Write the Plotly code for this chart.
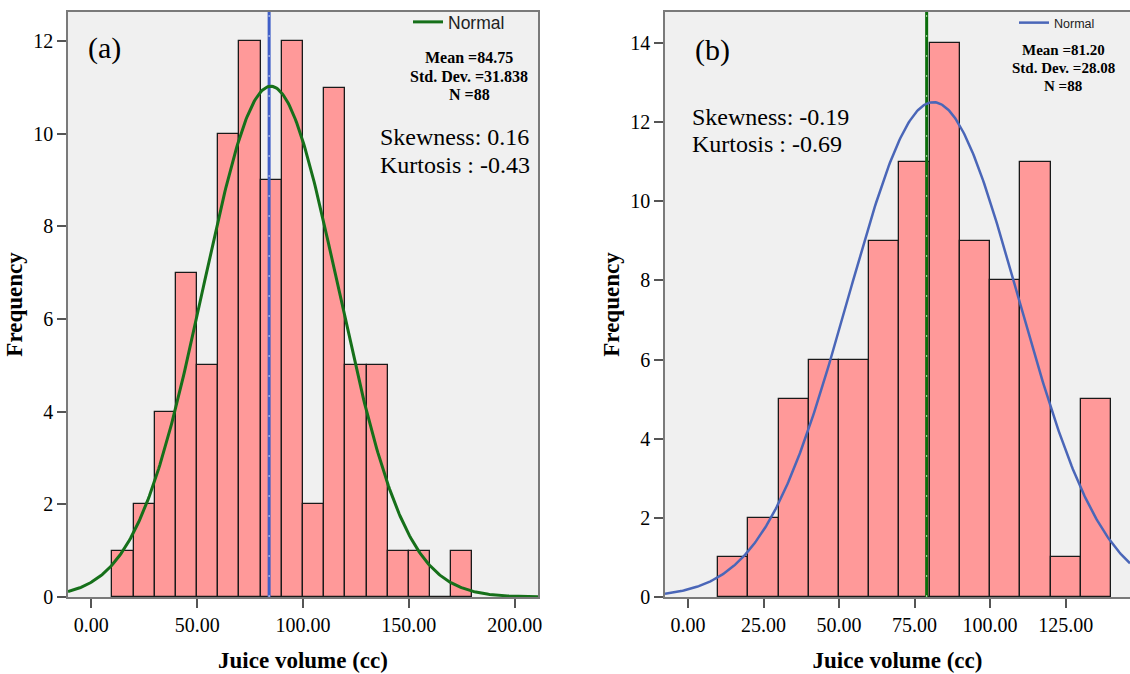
import numpy as np
import plotly.graph_objects as go

# ---------------- data ----------------
bin_width = 10

# Panel (a)
a_bin_starts = [10, 20, 30, 40, 50, 60, 70, 80, 90, 100, 110, 120, 130, 140, 150, 160, 170]
a_counts = [1, 2, 4, 7, 5, 10, 12, 9, 12, 2, 11, 5, 5, 1, 1, 0, 1]
a_mean, a_sd, a_n = 84.75, 31.838, 88
a_refline = 84.0
a_skew, a_kurt = "0.16", "-0.43"

# Panel (b)
b_bin_starts = [10, 20, 30, 40, 50, 60, 70, 80, 90, 100, 110, 120, 130]
b_counts = [1, 2, 5, 6, 6, 9, 11, 14, 9, 8, 11, 1, 5]
b_mean, b_sd, b_n = 81.20, 28.08, 88
b_refline = 79.0
b_skew, b_kurt = "-0.19", "-0.69"

a_xticks = [0, 50, 100, 150, 200]
b_xticks = [0, 25, 50, 75, 100, 125]
a_yticks = [0, 2, 4, 6, 8, 10, 12]
b_yticks = [0, 2, 4, 6, 8, 10, 12, 14]

a_xrange = [-11, 211]
b_xrange = [-7.6, 146.3]
a_yrange = [0, 12.63]
b_yrange = [0, 14.78]

# ---------------- styling ----------------
BAR_FILL = "#FF9999"
BG = "#F0F0F0"
FRAME = "#7a7a7a"
GREEN = "#16701A"
BLUE = "#4A66B8"
SERIF = "Liberation Serif"
SANS = "Liberation Sans"

W, H = 1130, 674


def normal_curve(mean, sd, n, xr):
    xs = np.linspace(xr[0], xr[1], 400)
    ys = n * bin_width / (sd * np.sqrt(2 * np.pi)) * np.exp(-0.5 * ((xs - mean) / sd) ** 2)
    return xs, ys


fig = go.Figure()

# ---- panel (a) ----
fig.add_trace(go.Bar(
    x=[s + bin_width / 2 for s in a_bin_starts], y=a_counts, width=bin_width,
    marker=dict(color=BAR_FILL, line=dict(color="#1a1a1a", width=1.3)),
    xaxis="x", yaxis="y", showlegend=False, hoverinfo="skip"))
fig.add_trace(go.Scatter(
    x=[a_refline, a_refline], y=[0, a_yrange[1]], mode="lines",
    line=dict(color="#3F5FC8", width=3), xaxis="x", yaxis="y",
    showlegend=False, hoverinfo="skip"))
fig.add_trace(go.Scatter(
    x=[a_refline, a_refline], y=[0, a_yrange[1]], mode="lines",
    line=dict(color="#C9D3F0", width=1, dash="2px,18px"), xaxis="x", yaxis="y",
    showlegend=False, hoverinfo="skip"))
xs, ys = normal_curve(a_mean, a_sd, a_n, a_xrange)
fig.add_trace(go.Scatter(
    x=xs, y=ys, mode="lines", line=dict(color=GREEN, width=3),
    name="Normal", xaxis="x", yaxis="y", legend="legend", hoverinfo="skip"))

# ---- panel (b) ----
fig.add_trace(go.Bar(
    x=[s + bin_width / 2 for s in b_bin_starts], y=b_counts, width=bin_width,
    marker=dict(color=BAR_FILL, line=dict(color="#1a1a1a", width=1.3)),
    xaxis="x2", yaxis="y2", showlegend=False, hoverinfo="skip"))
fig.add_trace(go.Scatter(
    x=[b_refline, b_refline], y=[0, b_yrange[1]], mode="lines",
    line=dict(color="#0B6E0B", width=3), xaxis="x2", yaxis="y2",
    showlegend=False, hoverinfo="skip"))
fig.add_trace(go.Scatter(
    x=[b_refline, b_refline], y=[0, b_yrange[1]], mode="lines",
    line=dict(color="#B8D8B0", width=1, dash="2px,18px"), xaxis="x2", yaxis="y2",
    showlegend=False, hoverinfo="skip"))
xs, ys = normal_curve(b_mean, b_sd, b_n, b_xrange)
fig.add_trace(go.Scatter(
    x=xs, y=ys, mode="lines", line=dict(color=BLUE, width=2.5),
    name="Normal", xaxis="x2", yaxis="y2", legend="legend2", hoverinfo="skip"))


def xaxis(domain, xr, ticks):
    return dict(
        domain=domain, range=xr, tickvals=ticks,
        ticktext=[f"{t:.2f}" for t in ticks],
        ticks="outside", ticklen=9, tickwidth=1.5, tickcolor="#555555",
        showgrid=False, zeroline=False, showline=True, mirror=True,
        linecolor=FRAME, linewidth=1.5, automargin=False,
        tickfont=dict(family=SERIF, size=20, color="black"),
        title=dict(text="<b>Juice volume (cc)</b>", standoff=17,
                   font=dict(family=SERIF, size=23, color="black")),
    )


def yaxis(domain, yr, ticks, anchor):
    return dict(
        domain=domain, range=yr, tickvals=ticks, anchor=anchor,
        ticks="outside", ticklen=9, tickwidth=1.5, tickcolor="#555555",
        showgrid=False, zeroline=False, showline=True, mirror=True,
        linecolor=FRAME, linewidth=1.5, automargin=False,
        tickfont=dict(family=SERIF, size=20, color="black"),
        title=dict(text="<b>Frequency</b>", standoff=4,
                   font=dict(family=SERIF, size=23, color="black")),
    )


ydom = [1 - 597 / H, 1 - 12 / H]

fig.update_layout(
    width=W, height=H, template="none",
    paper_bgcolor="white", plot_bgcolor=BG,
    margin=dict(l=0, r=0, t=0, b=0),
    bargap=0,
    xaxis=xaxis([68 / W, 538 / W], a_xrange, a_xticks) | dict(anchor="y"),
    yaxis=yaxis(ydom, a_yrange, a_yticks, "x"),
    xaxis2=xaxis([665 / W, 1.0], b_xrange, b_xticks) | dict(anchor="y2"),
    yaxis2=yaxis(ydom, b_yrange, b_yticks, "x2"),
    legend=dict(x=408 / W, y=1 - 22 / H, xanchor="left", yanchor="middle",
                bgcolor="rgba(0,0,0,0)", borderwidth=0, itemwidth=30,
                font=dict(family=SANS, size=17.5, color="#222222")),
    legend2=dict(x=1014 / W, y=1 - 23 / H, xanchor="left", yanchor="middle",
                 bgcolor="rgba(0,0,0,0)", borderwidth=0, itemwidth=30,
                 font=dict(family=SANS, size=12.5, color="#222222")),
    showlegend=True,
)

ann = []


def txt(text, x, y, size, xanchor="left", bold=False, family=SERIF):
    ann.append(dict(
        text=f"<b>{text}</b>" if bold else text, x=x / W, y=1 - y / H,
        xref="paper", yref="paper", xanchor=xanchor, yanchor="middle",
        showarrow=False, font=dict(family=family, size=size, color="black")))


# panel (a) texts
txt("(a)", 86, 48, 30)
txt(f"Mean ={a_mean:.2f}", 469, 58, 16, "center", True)
txt(f"Std. Dev. ={a_sd:.3f}", 469, 76, 16, "center", True)
txt(f"N ={a_n}", 469, 94, 16, "center", True)
txt(f"Skewness: {a_skew}", 378, 137, 24)
txt(f"Kurtosis : {a_kurt}", 378, 165, 24)

# panel (b) texts
txt("(b)", 693, 50, 30)
txt(f"Mean ={b_mean:.2f}", 1063, 50, 15, "center", True)
txt(f"Std. Dev. ={b_sd:.2f}", 1063, 68, 15, "center", True)
txt(f"N ={b_n}", 1063, 86, 15, "center", True)
txt(f"Skewness: {b_skew}", 690, 117, 24)
txt(f"Kurtosis : {b_kurt}", 690, 144, 24)

fig.update_layout(annotations=ann)

fig.write_html("out.html", config={"displayModeBar": False},
               post_script="document.body.style.margin='0px';")
